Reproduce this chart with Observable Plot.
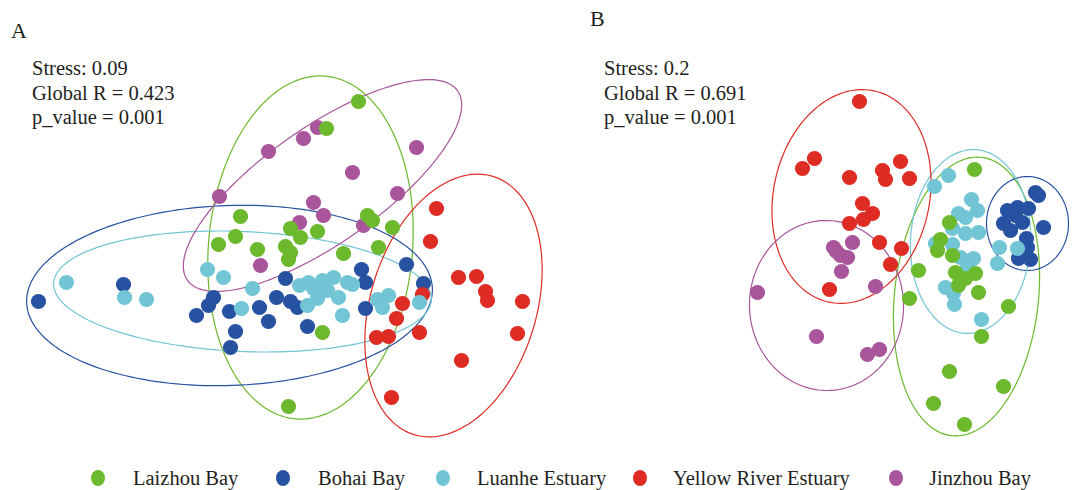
<!DOCTYPE html>
<html>
<head>
<meta charset="utf-8">
<script src="https://cdn.jsdelivr.net/npm/d3@7"></script>
<script src="https://cdn.jsdelivr.net/npm/@observablehq/plot@0.6"></script>
<style>
  html, body { margin: 0; padding: 0; background: #fff; }
  #root { position: relative; width: 1077px; height: 490px; overflow: hidden; font-family: "Liberation Serif", "DejaVu Serif", serif; color: #231F20; }
  .panel { position: absolute; top: 0; }
  .lbl { position: absolute; font-size: 22px; line-height: 1; }
  .stat { position: absolute; font-size: 20.5px; line-height: 24.5px; white-space: pre; }
  .leg { position: absolute; font-size: 20.5px; line-height: 1; white-space: nowrap; }
  .legdot { position: absolute; width: 14px; height: 16px; border-radius: 50%; }
</style>
</head>
<body>
<div id="root"></div>
<script>
// ---------------- data ----------------
const groups = ["Laizhou Bay", "Bohai Bay", "Luanhe Estuary", "Yellow River Estuary", "Jinzhou Bay"];
const groupColors = ["#6CB92D", "#2752A2", "#71C5D4", "#DE2C24", "#A9559B"];
// draw order of the points (back to front)
const drawOrder = ["Jinzhou Bay", "Bohai Bay", "Yellow River Estuary", "Luanhe Estuary", "Laizhou Bay"];

// Panel A (NMDS1, NMDS2)
const A_laizhou = [[0.78,1.49],[0.46,1.22],[-0.40,0.34],[-0.45,0.14],[-0.62,0.06],[-0.23,0.01],[0.10,0.22],[0.20,0.13],[0.37,0.19],[0.05,0.04],[0.10,-0.02],[0.08,-0.09],[0.63,-0.03],[0.87,0.35],[0.92,0.30],[1.12,0.23],[0.98,0.03],[0.42,-0.82],[0.08,-1.56]];
const A_jinzhou = [[-0.12,0.99],[0.37,1.23],[0.23,1.12],[1.36,1.03],[0.72,0.78],[1.17,0.57],[-0.61,0.54],[0.33,0.48],[0.43,0.35],[0.19,0.28],[0.83,0.25],[-0.20,-0.15]];
const A_bohai = [[-2.42,-0.51],[-1.57,-0.34],[-0.67,-0.47],[-0.72,-0.55],[-0.84,-0.65],[-0.51,-0.61],[-0.21,-0.57],[-0.12,-0.71],[-0.45,-0.81],[-0.50,-0.97],[0.05,-0.28],[-0.04,-0.47],[0.10,-0.51],[0.17,-0.57],[0.81,-0.19],[0.85,-0.32],[1.26,-0.14],[1.43,-0.33],[0.85,-0.58],[0.27,-0.76]];
const A_luanhe = [[-2.14,-0.32],[-1.56,-0.47],[-1.34,-0.49],[-0.73,-0.19],[-0.57,-0.27],[-0.28,-0.38],[-0.39,-0.58],[0.19,-0.35],[0.28,-0.32],[0.42,-0.30],[0.53,-0.27],[0.67,-0.32],[0.72,-0.34],[0.47,-0.40],[0.33,-0.38],[0.40,-0.42],[0.37,-0.48],[0.27,-0.55],[0.58,-0.47],[0.62,-0.65],[0.97,-0.49],[1.08,-0.45],[1.02,-0.57],[1.39,-0.52]];
const A_yellow = [[1.56,0.42],[1.50,0.09],[1.78,-0.27],[1.96,-0.26],[2.05,-0.41],[2.07,-0.50],[2.42,-0.51],[2.37,-0.83],[1.81,-1.10],[1.11,-1.47],[1.42,-0.44],[1.22,-0.53],[1.16,-0.68],[0.96,-0.87],[1.08,-0.86],[1.39,-0.82]];
// ellipses: [group, centre x, centre y, semi-major, semi-minor, angle of major axis (deg)]
const A_ellipses = [
  ["Laizhou Bay", 0.30, 0.03, 1.72, 1.02, 85],
  ["Bohai Bay", -0.51, -0.45, 2.03, 0.90, 2],
  ["Luanhe Estuary", -0.38, -0.41, 1.89, 0.60, -2.5],
  ["Yellow River Estuary", 1.73, -0.55, 1.35, 0.83, 73],
  ["Jinzhou Bay", 0.42, 0.65, 1.65, 0.58, 35]
];
const A_stats = ["Stress: 0.09", "Global R = 0.423", "p_value = 0.001"];

// Panel B (NMDS1, NMDS2)
const B_laizhou = [[0.74,0.61],[0.49,0.08],[0.40,-0.09],[0.37,-0.20],[0.52,-0.25],[0.18,-0.40],[0.55,-0.42],[0.60,-0.50],[0.58,-0.55],[0.65,-0.48],[0.75,-0.43],[0.78,-0.62],[0.09,-0.68],[1.08,-0.76],[0.81,-1.06],[0.49,-1.41],[1.03,-1.56],[0.33,-1.73],[0.64,-1.94]];
const B_jinzhou = [[-0.48,-0.12],[-0.67,-0.17],[-0.64,-0.21],[-0.60,-0.25],[-0.53,-0.27],[-0.59,-0.41],[-0.25,-0.56],[-1.43,-0.62],[-0.84,-1.06],[-0.33,-1.24],[-0.21,-1.19]];
const B_bohai = [[1.35,0.38],[1.38,0.35],[1.07,0.20],[1.17,0.23],[1.28,0.22],[1.15,0.15],[1.03,0.07],[1.22,0.08],[1.10,0.00],[1.43,0.03],[1.26,-0.08],[1.27,-0.17],[1.18,-0.28],[1.30,-0.29]];
const B_luanhe = [[0.48,0.55],[0.34,0.44],[0.71,0.31],[0.77,0.20],[0.65,0.13],[0.58,0.17],[0.78,-0.02],[0.65,-0.03],[0.52,0.02],[0.35,-0.13],[0.52,-0.14],[0.60,-0.27],[0.73,-0.28],[0.67,-0.37],[0.45,-0.57],[0.53,-0.63],[0.54,-0.74],[0.81,-0.89],[0.99,-0.17],[1.17,-0.18],[0.97,-0.33]];
const B_yellow = [[-0.41,1.29],[-0.86,0.72],[-0.98,0.62],[-0.51,0.53],[-0.18,0.60],[-0.15,0.51],[0.00,0.69],[0.09,0.52],[-0.38,0.27],[-0.28,0.17],[-0.37,0.11],[-0.51,0.07],[-0.21,-0.12],[0.01,-0.18],[-0.10,-0.34],[-0.71,-0.59]];
const B_ellipses = [
  ["Laizhou Bay", 0.66, -0.66, 1.40, 0.72, 84],
  ["Bohai Bay", 1.27, 0.07, 0.47, 0.41, 90],
  ["Luanhe Estuary", 0.70, -0.11, 0.92, 0.60, 87],
  ["Yellow River Estuary", -0.49, 0.34, 1.08, 0.78, 78],
  ["Jinzhou Bay", -0.74, -0.75, 0.85, 0.77, 92]
];
const B_stats = ["Stress: 0.2", "Global R = 0.691", "p_value = 0.001"];

// ---------------- build ----------------
function points(sets) {
  const out = [];
  for (const g of drawOrder) for (const [x, y] of sets[g]) out.push({g, x, y});
  return out;
}
function ellipsePath(ells) {
  const out = [];
  for (const [g, cx, cy, a, b, ang] of ells) {
    const th = ang * Math.PI / 180;
    for (let i = 0; i <= 180; i++) {
      const t = i / 180 * 2 * Math.PI;
      out.push({g,
        x: cx + a * Math.cos(t) * Math.cos(th) - b * Math.sin(t) * Math.sin(th),
        y: cy + a * Math.cos(t) * Math.sin(th) + b * Math.sin(t) * Math.cos(th)});
    }
  }
  return out;
}
function panel(pts, ells, xdom, ydom, w) {
  return Plot.plot({
    width: w, height: 450, margin: 0,
    x: {domain: xdom, axis: null},
    y: {domain: ydom, axis: null},
    color: {domain: groups, range: groupColors},
    marks: [
      Plot.line(ellipsePath(ells), {x: "x", y: "y", z: "g", stroke: "g", strokeWidth: 1.2, curve: "linear"}),
      Plot.dot(pts, {x: "x", y: "y", fill: "g", r: 7.6, stroke: "none"})
    ]
  });
}

const root = document.getElementById("root");
const pa = panel(points({"Laizhou Bay": A_laizhou, "Bohai Bay": A_bohai, "Luanhe Estuary": A_luanhe, "Yellow River Estuary": A_yellow, "Jinzhou Bay": A_jinzhou}),
  A_ellipses, [-2.8, 2.8], [-2.0, 2.5], 560);
const pb = panel(points({"Laizhou Bay": B_laizhou, "Bohai Bay": B_bohai, "Luanhe Estuary": B_luanhe, "Yellow River Estuary": B_yellow, "Jinzhou Bay": B_jinzhou}),
  B_ellipses, [-3.6, 1.77], [-2.2, 2.3], 537);
const da = document.createElement("div"); da.className = "panel"; da.style.left = "0px"; da.appendChild(pa); root.appendChild(da);
const db = document.createElement("div"); db.className = "panel"; db.style.left = "540px"; db.appendChild(pb); root.appendChild(db);

function addText(cls, txt, left, top) {
  const d = document.createElement("div"); d.className = cls; d.textContent = txt;
  d.style.left = left + "px"; d.style.top = top + "px"; root.appendChild(d); return d;
}
addText("lbl", "A", 11, 20);
addText("lbl", "B", 590, 8);
addText("stat", A_stats.join("\n"), 32, 56);
addText("stat", B_stats.join("\n"), 604, 56);

// legend
const legDotX = [98, 283, 443, 640, 896];
const legTextX = [133, 318, 477, 673, 929];
groups.forEach((g, i) => {
  const d = document.createElement("div"); d.className = "legdot";
  d.style.background = groupColors[i];
  d.style.left = (legDotX[i] - 7) + "px"; d.style.top = (478 - 8) + "px";
  root.appendChild(d);
  addText("leg", g, legTextX[i], 468);
});
</script>
</body>
</html>
